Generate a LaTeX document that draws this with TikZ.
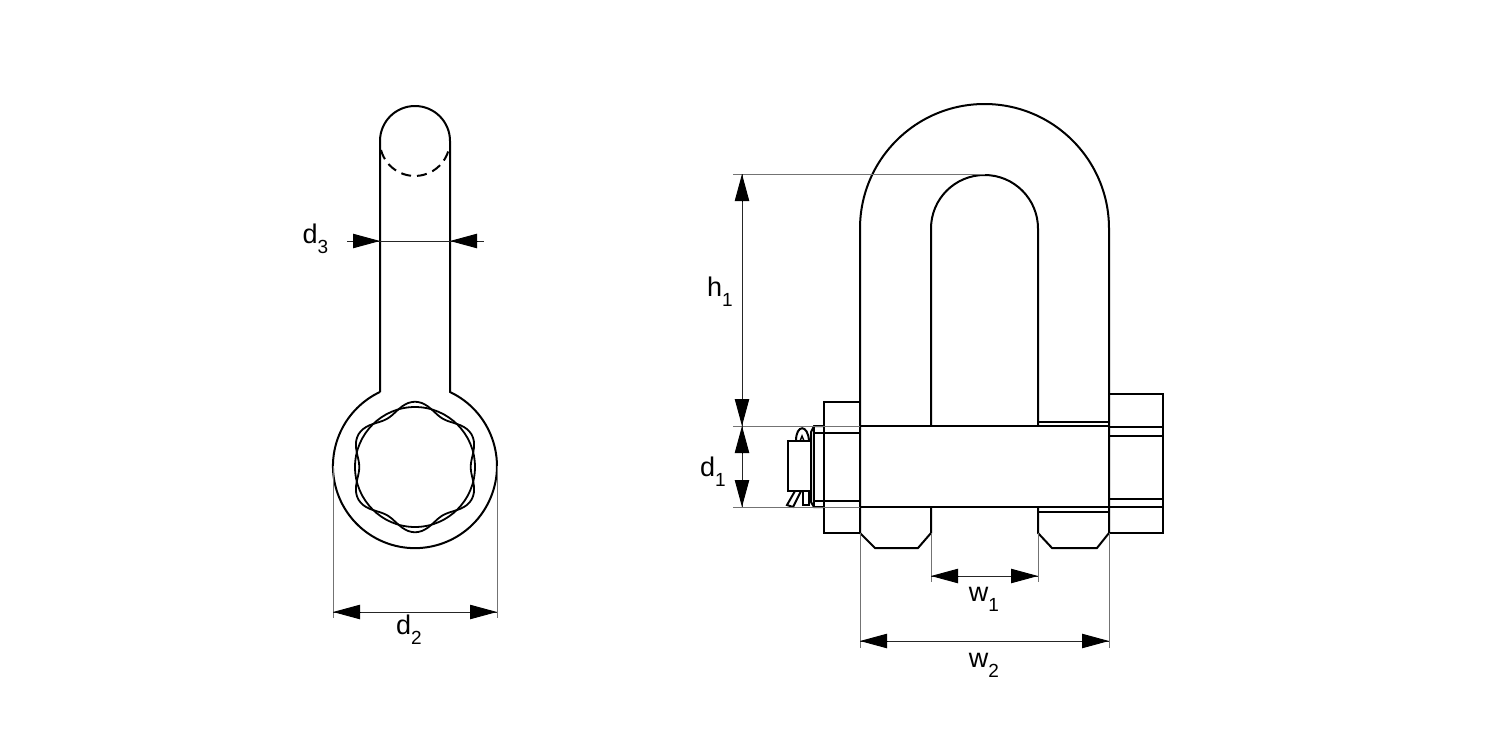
\documentclass[tikz,border=0pt]{standalone}
\usepackage{fontspec}
\setmainfont{Liberation Sans}
\usetikzlibrary{arrows.meta, calc}
\newcommand{\dimlabel}[2]{#1\raisebox{-.38em}{\fontsize{9.5}{10}\selectfont #2}}
\tikzset{
    part/.style={line width=1pt, line join=miter},
    extline/.style={line width=.5pt, draw=black!55},
    dimline/.style={line width=.45pt, draw=black!85},
    dimtip/.style={line width=.45pt, -{Triangle[length=13.5pt, width=7.2pt]}},
    dimtext/.style={font=\fontsize{13.5}{15}\selectfont, inner sep=0pt}
}
\begin{document}
\begin{tikzpicture}[x=0.5pt, y=-0.5pt]
    \useasboundingbox (0, 0) rectangle (1500, 750);
    % side view
    \draw[part] (380, 392) -- (380, 141) arc[start angle=180, end angle=360, radius=35] -- (450, 392)
        arc[start angle=-64.7, end angle=244.7, radius=82];
    \draw[part, dashed, dash pattern=on 5pt off 3pt] (381, 150) arc[start angle=165, end angle=15, radius=35];
    \draw[part, line width=.9pt] (415, 467) circle (60);
    \draw[part, line width=.9pt] plot[smooth cycle, domain=0:354, samples=60]
        ({415+(60.5-4.8*cos(6*\x))*cos(\x)}, {467+(60.5-4.8*cos(6*\x))*sin(\x)});
    % front view, bow
    \draw[part] (860, 533) -- (860, 228.5) arc[start angle=180, end angle=360, radius=124.5] -- (1109, 533);
    \draw[part] (931, 426) -- (931, 228.5) arc[start angle=180, end angle=360, radius=53.5] -- (1038, 426);
    \draw[part] (1038, 422) -- (1109, 422);
    \draw[part] (860, 426) rectangle (1109, 507);
    % lower ends
    \draw[part] (860, 533) -- (875, 548) -- (918, 548) -- (931, 533) -- (931, 507);
    \draw[part] (1038, 507) -- (1038, 533) -- (1052, 548) -- (1097, 548) -- (1109, 533);
    \draw[part] (1038, 512) -- (1109, 512);
    % nut, right
    \draw[part] (1109, 394) rectangle (1163, 533);
    \draw[part] (1109, 427) -- (1163, 427);
    \draw[part] (1109, 436) -- (1163, 436);
    \draw[part] (1109, 499) -- (1163, 499);
    \draw[part] (1109, 507) -- (1163, 507);
    % head, left
    \draw[part] (860, 402) -- (824, 402) -- (824, 533) -- (860, 533);
    \draw[part] (860, 433) -- (814, 433);
    \draw[part] (860, 501) -- (814, 501);
    \draw[part] (824, 426) -- (814, 426) -- (811, 432) -- (811, 502) -- (814, 507) -- (824, 507);
    \draw[part] (814, 426) -- (814, 507);
    % pin
    \draw[part] (788, 441) rectangle (811, 491);
    \draw[part] (796, 441) .. controls (796, 424) and (808, 424) .. (809, 441);
    \draw[part, line width=.7pt] (800, 441) -- (802, 436) -- (804, 441);
    \draw[part] (795, 491) -- (787, 505) -- (793, 507) -- (801, 491);
    \draw[part] (803, 491) -- (803, 505) -- (809, 505) -- (809, 491);
    % dimension points
    \coordinate (d3left) at (380, 241);
    \coordinate (d3right) at (450, 241);
    \coordinate (d3start) at (347, 241);
    \coordinate (d3end) at (484, 241);
    \coordinate (d2left) at (333, 612);
    \coordinate (d2right) at (497, 612);
    \coordinate (h1top) at (742, 174);
    \coordinate (h1bottom) at (742, 426);
    \coordinate (d1bottom) at (742, 507);
    \coordinate (w1left) at (931, 576);
    \coordinate (w1right) at (1038, 576);
    \coordinate (w2left) at (860, 641);
    \coordinate (w2right) at (1109, 641);
    % extension lines
    \draw[extline] (333, 466) -- (333, 618);
    \draw[extline] (497, 466) -- (497, 618);
    \draw[extline] (733, 174) -- (985, 174);
    \draw[extline] (733, 426) -- (860, 426);
    \draw[extline] (733, 507) -- (860, 507);
    \draw[extline] (860, 533) -- (860, 648);
    \draw[extline] (1109, 533) -- (1109, 648);
    \draw[extline] (931, 533) -- (931, 582);
    \draw[extline] (1038, 533) -- (1038, 582);
    % dimension lines
    \draw[dimline] (d3start) -- (d3end);
    \draw[dimline] (d2left) -- (d2right);
    \draw[dimline] (h1top) -- (d1bottom);
    \draw[dimline] (w1left) -- (w1right);
    \draw[dimline] (w2left) -- (w2right);
    % arrows
    \draw[dimtip] ($(d3left)+(-27, 0)$) -- (d3left);
    \draw[dimtip] ($(d3right)+(27, 0)$) -- (d3right);
    \draw[dimtip] ($(d2left)+(27, 0)$) -- (d2left);
    \draw[dimtip] ($(d2right)+(-27, 0)$) -- (d2right);
    \draw[dimtip] ($(h1top)+(0, 27)$) -- (h1top);
    \draw[dimtip] ($(h1bottom)+(0, -27)$) -- (h1bottom);
    \draw[dimtip] ($(h1bottom)+(0, 27)$) -- (h1bottom);
    \draw[dimtip] ($(d1bottom)+(0, -27)$) -- (d1bottom);
    \draw[dimtip] ($(w1left)+(27, 0)$) -- (w1left);
    \draw[dimtip] ($(w1right)+(-27, 0)$) -- (w1right);
    \draw[dimtip] ($(w2left)+(27, 0)$) -- (w2left);
    \draw[dimtip] ($(w2right)+(-27, 0)$) -- (w2right);
    % labels
    \node[dimtext] (d3label) at (315.5, 239) {\dimlabel{d}{3}};
    \node[dimtext] (d2label) at (409, 630) {\dimlabel{d}{2}};
    \node[dimtext] (h1label) at (720, 292) {\dimlabel{h}{1}};
    \node[dimtext] (d1label) at (713, 472) {\dimlabel{d}{1}};
    \node[dimtext] (w1label) at (984, 599) {\dimlabel{w}{1}};
    \node[dimtext] (w2label) at (984, 665) {\dimlabel{w}{2}};
\end{tikzpicture}
\end{document}
